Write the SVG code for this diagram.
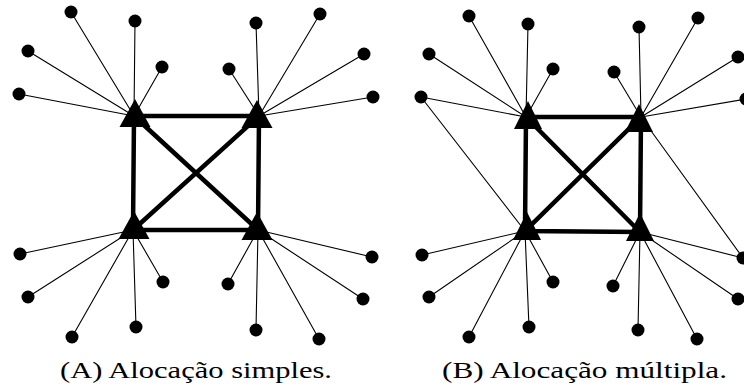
<svg xmlns="http://www.w3.org/2000/svg" width="744" height="391" viewBox="0 0 744 391">
<style>
.e{stroke:#000;stroke-width:1.1;fill:none}
.s{stroke:#000;stroke-width:4.5;fill:none;stroke-linecap:square}
.d{fill:#000}
.h{fill:#000}
.cap{font-family:"Liberation Serif","DejaVu Serif",serif;font-size:23px;fill:#000}
</style>
<defs>
<circle id="dot" r="6.5" class="d"/>
<polygon id="triA" points="0,-17 15.5,11 -15.5,11" class="h"/>
<polygon id="triB" points="0,-16 14,12 -14,12" class="h"/>
</defs>
<rect width="744" height="391" fill="#fff"/>
<g id="connectors">
<path class="e" d="M134,116L71,12M134,116L135,21M134,116L28,51M134,116L162,67M134,116L19,94"/>
<path class="e" d="M259,116L256,23M259,116L320,14M259,116L229,69M259,116L364,54M259,116L373,97"/>
<path class="e" d="M133,230L20,254M133,230L28,297M133,230L72,337M133,230L136,327M133,230L163,282"/>
<path class="e" d="M258,230L228,284M258,230L256,330M258,230L319,339M258,230L363,299M258,230L372,257"/>
<path class="s" d="M134,116L259,116L258,230L133,230Z M134,116L258,230 M259,116L133,230"/>
<path class="e" d="M526,117L469,16M526,117L528,24M526,117L429,54M526,117L553,69M526,117L421,97"/>
<path class="e" d="M641,117L639,27M641,117L698,18M641,117L614,72M641,117L738,57M641,117L746,99M641,117L743,258"/>
<path class="e" d="M525,231L422,255M525,231L429,297M525,231L469,337M525,231L529,327M525,231L553,282M525,231L421,97"/>
<path class="e" d="M640,232L613,286M640,232L638,330M640,232L697,339M640,232L738,299M640,232L743,258"/>
<path class="s" d="M526,117L641,117L640,232L525,231Z M526,117L640,232 M641,117L525,231"/>
</g>
<g id="A-hub-TL"><use href="#triA" x="135" y="116"/></g>
<g id="A-hub-TR"><use href="#triA" x="257" y="117"/></g>
<g id="A-hub-BL"><use href="#triA" x="134" y="228"/></g>
<g id="A-hub-BR"><use href="#triA" x="257" y="229"/></g>
<g id="B-hub-TL"><use href="#triB" x="528" y="117"/></g>
<g id="B-hub-TR"><use href="#triB" x="639" y="120"/></g>
<g id="B-hub-BL"><use href="#triB" x="527" y="228"/></g>
<g id="B-hub-BR"><use href="#triB" x="640" y="229"/></g>
<g id="A-leaves">
<use href="#dot" x="71" y="12"/><use href="#dot" x="135" y="21"/><use href="#dot" x="28" y="51"/><use href="#dot" x="162" y="67"/><use href="#dot" x="19" y="94"/>
<use href="#dot" x="256" y="23"/><use href="#dot" x="320" y="14"/><use href="#dot" x="229" y="69"/><use href="#dot" x="364" y="54"/><use href="#dot" x="373" y="97"/>
<use href="#dot" x="20" y="254"/><use href="#dot" x="28" y="297"/><use href="#dot" x="72" y="337"/><use href="#dot" x="136" y="327"/><use href="#dot" x="163" y="282"/>
<use href="#dot" x="228" y="284"/><use href="#dot" x="256" y="330"/><use href="#dot" x="319" y="339"/><use href="#dot" x="363" y="299"/><use href="#dot" x="372" y="257"/>
</g>
<g id="B-leaves">
<use href="#dot" x="469" y="16"/><use href="#dot" x="528" y="24"/><use href="#dot" x="429" y="54"/><use href="#dot" x="553" y="69"/><use href="#dot" x="421" y="97"/>
<use href="#dot" x="639" y="27"/><use href="#dot" x="698" y="18"/><use href="#dot" x="614" y="72"/><use href="#dot" x="738" y="57"/><use href="#dot" x="746" y="99"/>
<use href="#dot" x="422" y="255"/><use href="#dot" x="429" y="297"/><use href="#dot" x="469" y="337"/><use href="#dot" x="529" y="327"/><use href="#dot" x="553" y="282"/>
<use href="#dot" x="613" y="286"/><use href="#dot" x="638" y="330"/><use href="#dot" x="697" y="339"/><use href="#dot" x="738" y="299"/><use href="#dot" x="743" y="258"/>
</g>
<g id="captions">
<text class="cap" x="60" y="378" textLength="272" lengthAdjust="spacingAndGlyphs">(A) Alocação simples.</text>
<text class="cap" x="442" y="378" textLength="285" lengthAdjust="spacingAndGlyphs">(B) Alocação múltipla.</text>
</g>
</svg>
